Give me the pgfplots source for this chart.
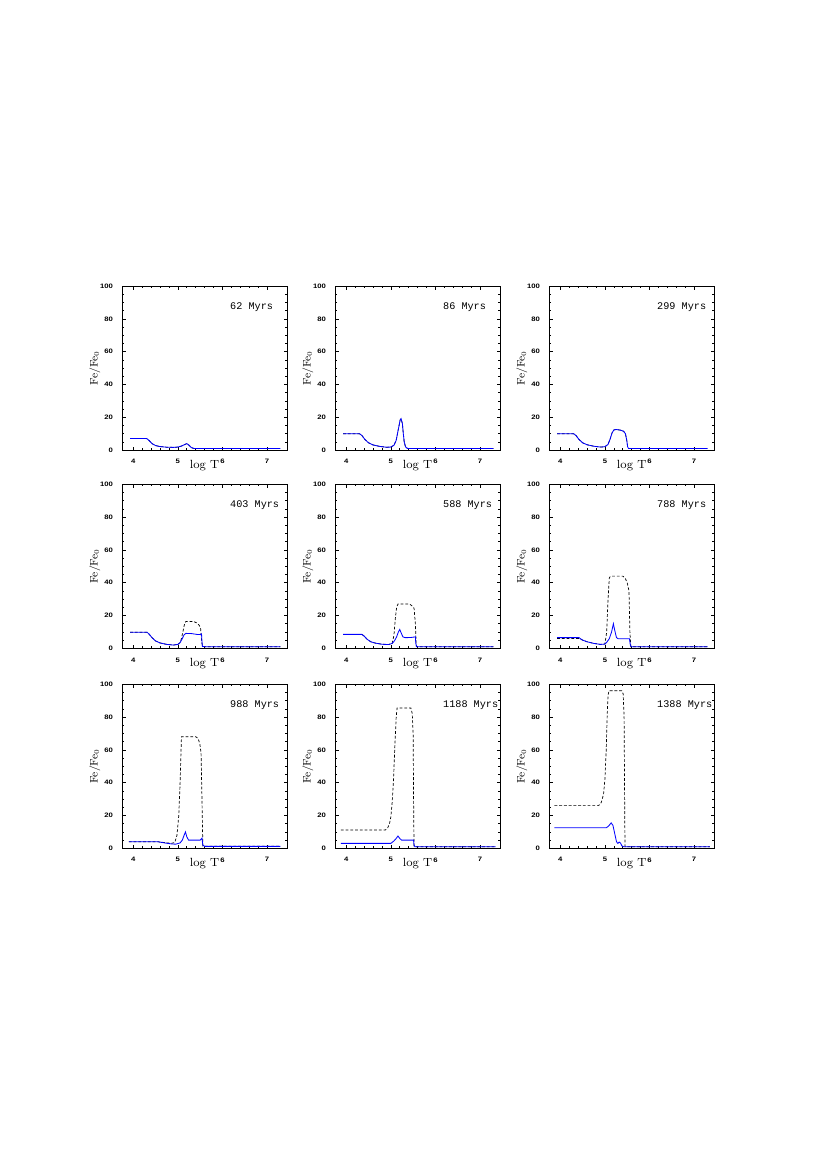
\documentclass[border=0pt]{standalone}
\usepackage{fontspec}
\usepackage{pgfplots}
\pgfplotsset{compat=1.18}
\setmainfont{Latin Modern Roman}
\newfontfamily\tickfont[FakeStretch=1.2]{Liberation Sans}
\newfontfamily\myrfont{Liberation Mono}
\pgfplotsset{
  panel/.style={
    scale only axis, width=118.3pt, height=117.6pt,
    anchor=north west,
    xmin=3.75, xmax=7.45, ymin=0, ymax=100,
    xtick={4,5,6,7}, ytick={0,20,40,60,80,100},
    minor x tick num=4, minor y tick num=3,
    tick align=inside,
    major tick length=2.6pt, minor tick length=1.4pt,
    axis line style={line width=0.5pt},
    every tick/.style={line width=0.45pt, black},
    /pgf/number format/assume math mode=true,
    tick label style={font=\tickfont\bfseries\fontsize{4.6}{5.5}\selectfont},
    xticklabel style={anchor=north, yshift=-3.1pt},
    yticklabel style={anchor=east, xshift=-3pt},
    xlabel={log\ T},
    ylabel={Fe/Fe$_0$},
    xlabel style={font=\fontsize{8.5}{9}\selectfont, at={(axis description cs:0.5,0)}, anchor=base, yshift=-12.9pt},
    ylabel style={font=\fontsize{7.8}{8.5}\selectfont, at={(axis description cs:-0.165,0.5)}, anchor=center, rotate=0},
  },
  bl/.style={blue, line width=0.6pt},
  dl/.style={black, line width=0.5pt, dash pattern=on 2pt off 1.4pt},
}
\newcommand{\age}[1]{\node[anchor=base west, font=\myrfont\fontsize{7.3}{8}\selectfont] at (rel axis cs:0.625,0.856) {#1};}
\begin{document}
\begin{tikzpicture}
\path[use as bounding box] (0pt,0pt) rectangle (595pt,842pt);
% ---------- Row 1 ----------
\begin{axis}[panel, at={(87.5pt,637pt)}]
\addplot[dl] coordinates {(3.93,7.1) (4.30,7.1) (4.35,6) (4.42,4) (4.5,2.8) (4.6,2.2) (4.75,1.8) (4.9,1.7) (5.0,1.9) (5.08,2.5) (5.15,3.4) (5.2,4) (5.25,3) (5.3,1.6) (5.35,1.1) (5.4,1) (7.3,1)};
\addplot[bl] coordinates {(3.93,7.1) (4.30,7.1) (4.35,6) (4.42,4) (4.5,2.8) (4.6,2.2) (4.75,1.8) (4.9,1.7) (5.0,1.9) (5.08,2.5) (5.15,3.4) (5.2,4) (5.25,3) (5.3,1.6) (5.35,1.1) (5.4,1) (7.3,1)};
\age{62 Myrs}
\end{axis}
\begin{axis}[panel, at={(240.1pt,637pt)}]
\addplot[dl] coordinates {(3.93,10) (4.3,10) (4.35,9) (4.42,6.5) (4.5,4.5) (4.6,3.2) (4.75,2.3) (4.9,1.8) (5.0,1.9) (5.07,3) (5.12,6) (5.17,13) (5.21,18.5) (5.23,19.2) (5.26,16) (5.28,10) (5.3,5) (5.33,2) (5.37,1.1) (5.4,1) (7.3,1)};
\addplot[bl] coordinates {(3.93,10) (4.3,10) (4.35,9) (4.42,6.5) (4.5,4.5) (4.6,3.2) (4.75,2.3) (4.9,1.8) (5.0,1.9) (5.07,3) (5.12,6) (5.17,13) (5.21,18.5) (5.23,19.2) (5.26,16) (5.28,10) (5.3,5) (5.33,2) (5.37,1.1) (5.4,1) (7.3,1)};
\age{86 Myrs}
\end{axis}
\begin{axis}[panel, at={(393.5pt,637pt)}]
\addplot[dl] coordinates {(3.93,10) (4.3,10) (4.35,9) (4.42,6.5) (4.5,4.5) (4.6,3.3) (4.75,2.4) (4.9,1.9) (5.0,2.1) (5.07,3.5) (5.12,7) (5.16,10.5) (5.2,12.3) (5.25,12.6) (5.35,12.2) (5.42,11.5) (5.46,10) (5.49,6) (5.51,2) (5.53,1) (7.3,1)};
\addplot[bl] coordinates {(3.93,10) (4.3,10) (4.35,9) (4.42,6.5) (4.5,4.5) (4.6,3.3) (4.75,2.4) (4.9,1.9) (5.0,2.1) (5.07,3.5) (5.12,7) (5.16,10.5) (5.2,12.3) (5.25,12.6) (5.35,12.2) (5.42,11.5) (5.46,10) (5.49,6) (5.51,2) (5.53,1) (7.3,1)};
\age{299 Myrs}
\end{axis}
% ---------- Row 2 ----------
\begin{axis}[panel, at={(87.5pt,495pt)}]
\addplot[dl] coordinates {(3.93,9.8) (4.31,9.8) (4.36,8.5) (4.42,6.5) (4.5,4.5) (4.6,3.3) (4.75,2.4) (4.9,2) (5.0,2.4) (5.05,3.5) (5.08,6) (5.12,11) (5.15,15) (5.18,16.4) (5.35,16.4) (5.42,15.5) (5.48,14) (5.51,12) (5.53,5) (5.55,1.2) (5.6,1) (7.3,1)};
\addplot[bl] coordinates {(3.93,9.8) (4.31,9.8) (4.36,8.5) (4.42,6.5) (4.5,4.5) (4.6,3.3) (4.75,2.4) (4.9,2) (5.0,2.4) (5.05,3.5) (5.1,6) (5.14,8.3) (5.18,9.1) (5.3,9) (5.45,8.4) (5.5,8.4) (5.53,8.8) (5.54,4) (5.55,1.2) (5.6,1) (7.3,1)};
\age{403 Myrs}
\end{axis}
\begin{axis}[panel, at={(240.1pt,495pt)}]
\addplot[dl] coordinates {(3.93,8.5) (4.35,8.5) (4.4,7.5) (4.47,5.5) (4.55,4) (4.65,3.2) (4.8,2.5) (4.95,2.3) (5.03,3) (5.07,8) (5.1,18) (5.13,25) (5.16,27) (5.42,27) (5.47,26) (5.52,24.5) (5.55,15) (5.57,1.2) (5.6,1) (7.3,1)};
\addplot[bl] coordinates {(3.93,8.5) (4.35,8.5) (4.4,7.5) (4.47,5.5) (4.55,4) (4.65,3.2) (4.8,2.5) (4.95,2.3) (5.03,3) (5.08,4.5) (5.13,7) (5.17,10) (5.2,11.5) (5.23,9.5) (5.27,7) (5.32,6.5) (5.45,6.6) (5.55,7) (5.56,3) (5.58,1) (7.3,1)};
\age{588 Myrs}
\end{axis}
\begin{axis}[panel, at={(393.5pt,495pt)}]
\addplot[dl] coordinates {(3.93,6) (4.42,6) (4.5,5) (4.6,4) (4.75,3) (4.9,2.4) (5.0,2.6) (5.04,10) (5.07,30) (5.1,43) (5.13,44) (5.4,44) (5.45,43) (5.5,40) (5.54,35) (5.56,10) (5.58,1) (7.3,1)};
\addplot[bl] coordinates {(3.93,6.5) (4.42,6.5) (4.5,5) (4.6,4) (4.75,3) (4.9,2.4) (5.0,2.6) (5.05,4) (5.1,6) (5.15,10) (5.19,15) (5.22,11) (5.26,6.5) (5.3,5.8) (5.55,5.8) (5.57,2) (5.59,1) (7.3,1)};
\age{788 Myrs}
\end{axis}
% ---------- Row 3 ----------
\begin{axis}[panel, at={(87.5pt,351.7pt)}]
\addplot[dl] coordinates {(3.9,4) (4.55,4) (4.7,3.5) (4.85,3) (4.93,3.5) (4.98,8) (5.02,20) (5.05,40) (5.08,68) (5.4,68) (5.45,67) (5.49,64) (5.52,58) (5.54,30) (5.56,1.2) (7.3,1.2)};
\addplot[bl] coordinates {(3.9,4) (4.55,4) (4.7,3.3) (4.85,2.7) (4.95,2.5) (5.05,3.3) (5.1,5) (5.14,8) (5.17,10) (5.2,7) (5.24,5) (5.5,5) (5.54,6.2) (5.56,2) (5.6,1.2) (7.3,1.2)};
\age{988 Myrs}
\end{axis}
\begin{axis}[panel, at={(240.1pt,351.7pt)}]
\addplot[dl] coordinates {(3.88,11.2) (4.88,11.2) (4.93,12.5) (4.97,15) (5.0,19) (5.03,28) (5.06,42) (5.09,62) (5.12,80) (5.14,85.5) (5.45,85.5) (5.48,82) (5.5,70) (5.51,30) (5.52,1) (7.35,1)};
\addplot[bl] coordinates {(3.88,3) (5.0,3) (5.07,4.5) (5.12,6) (5.16,7.5) (5.2,6) (5.24,5) (5.51,5) (5.52,2) (5.54,1) (7.35,1)};
\age{1188 Myrs}
\end{axis}
\begin{axis}[panel, at={(393.5pt,351.7pt)}]
\addplot[dl] coordinates {(3.87,26) (4.86,26) (4.92,28) (4.97,33) (5.0,42) (5.03,60) (5.05,80) (5.07,93) (5.09,96) (5.38,96) (5.41,94) (5.43,80) (5.44,40) (5.45,1) (7.35,1)};
\addplot[bl] coordinates {(3.87,12.5) (5.03,12.5) (5.08,13.5) (5.14,15.5) (5.18,14) (5.22,9) (5.26,4) (5.29,3) (5.32,3.8) (5.35,3.2) (5.38,1.5) (5.42,1) (7.35,1)};
\age{1388 Myrs}
\end{axis}
\end{tikzpicture}
\end{document}
